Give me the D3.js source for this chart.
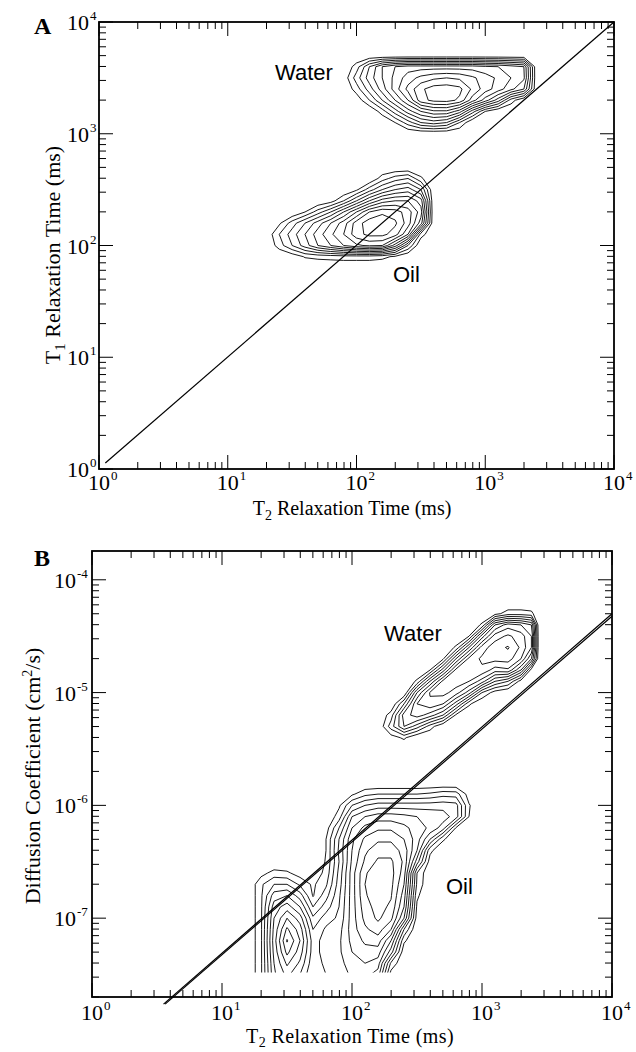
<!DOCTYPE html>
<html>
<head>
<meta charset="utf-8">
<script src="https://cdn.jsdelivr.net/npm/d3@7"></script>
<style>
  body { margin: 0; background: #fff; }
  svg { display: block; }
  .serif { font-family: "Liberation Serif", "Times New Roman", serif; fill: #000; }
  .sans { font-family: "Liberation Sans", Arial, sans-serif; fill: #000; }
</style>
</head>
<body>
<svg id="chart" width="636" height="1052"></svg>
<script>
// ------------------------------------------------------------------
// Panel A : T1 - T2 correlation map
// ------------------------------------------------------------------
const t2DomainA = [1, 1e4];
const t1DomainA = [1, 1e4];
const t2DecadesA = [1, 10, 100, 1000, 10000];
const t2ExpLabelsA = ["0", "1", "2", "3", "4"];
const t1DecadesA = [1, 10, 100, 1000, 10000];
const t1ExpLabelsA = ["0", "1", "2", "3", "4"];
const levelsA = [1, 2, 3, 4, 5, 6, 7, 8, 9, 10, 11];

// T1 = T2 reference line
const diagonalA = [[1.12, 1.13], [10000, 10000]];

// water peak : grid nodes in log10(T2) / log10(T1), rows listed from high T1 to low T1
const waterA_logT2 = [1.8, 1.9, 2.0, 2.1, 2.2, 2.3, 2.4, 2.5, 2.6, 2.7, 2.8, 2.9, 3.0, 3.1, 3.2, 3.3, 3.4, 3.5];
const waterA_logT1 = [3.8, 3.7, 3.6, 3.5, 3.4, 3.3, 3.2, 3.1, 3.0, 2.9];
const waterA_amp = [
  [0, 0, 0, 0, 0, 0, 0, 0, 0, 0, 0, 0, 0, 0, 0, 0, 0, 0],
  [0, 0, 0, 0, 0, 0, 0, 0, 0, 0, 0, 0, 0, 0, 0, 0, 0, 0],
  [0, 0, 1.5, 4, 6, 7, 7.5, 7.5, 7.5, 7.5, 7.5, 7.5, 7.2, 7, 6.5, 6, 0, 0],
  [0, 0.3, 2.5, 4.5, 6, 7.3, 8.5, 9.3, 9.8, 10, 9.8, 9.2, 8.5, 7.8, 7, 6.2, 0, 0],
  [0, 0, 1.5, 3.5, 5.5, 7.5, 9.3, 10.8, 11.5, 11.6, 11.3, 9.8, 8.5, 7.5, 6.3, 5, 0, 0],
  [0, 0, 0.3, 2, 4, 6, 8, 10.6, 11.3, 11.4, 10.8, 8.5, 6.5, 4.5, 1.5, 0, 0, 0],
  [0, 0, 0, 0, 1.5, 3.5, 5.5, 7, 7.8, 7.8, 6.5, 3.5, 1, 0, 0, 0, 0, 0],
  [0, 0, 0, 0, 0, 1, 2.5, 4, 4.5, 4, 2, 0, 0, 0, 0, 0, 0, 0],
  [0, 0, 0, 0, 0, 0, 0, 0, 0, 0, 0, 0, 0, 0, 0, 0, 0, 0],
  [0, 0, 0, 0, 0, 0, 0, 0, 0, 0, 0, 0, 0, 0, 0, 0, 0, 0]
];

// oil peak
const oilA_logT2 = [1.2, 1.3, 1.4, 1.5, 1.6, 1.7, 1.8, 1.9, 2.0, 2.1, 2.2, 2.3, 2.4, 2.5, 2.6, 2.7];
const oilA_logT1 = [2.8, 2.7, 2.6, 2.5, 2.4, 2.3, 2.2, 2.1, 2.0, 1.9, 1.8, 1.7];
const oilA_amp = [
  [0, 0, 0, 0, 0, 0, 0, 0, 0, 0, 0, 0, 0, 0, 0, 0],
  [0, 0, 0, 0, 0, 0, 0, 0, 0, 0, 0, 0, 0, 0, 0, 0],
  [0, 0, 0, 0, 0, 0, 0, 0, 0, 0, 1.5, 2.5, 3, 1.2, 0, 0],
  [0, 0, 0, 0, 0, 0, 0, 0, 0.8, 2.5, 4, 5, 5.5, 4, 0, 0],
  [0, 0, 0, 0, 0, 0, 0.5, 2, 4, 6, 7.5, 8, 8, 6.5, 0, 0],
  [0, 0, 0, 0, 1, 2.5, 4, 6, 8, 10, 10.8, 10.5, 9.5, 7.5, 0, 0],
  [0, 0, 0.8, 2.5, 4, 5.5, 7, 8.5, 10.5, 11.6, 11.7, 11.2, 9.5, 6.5, 0, 0],
  [0, 0.2, 2, 3.5, 5, 6.5, 7.8, 9, 10.6, 11.3, 11.3, 10.5, 8, 1.5, 0, 0],
  [0, 0, 1.5, 3, 4.5, 6, 7, 8, 8.8, 9.2, 9, 6.5, 3, 0, 0, 0],
  [0, 0, 0, 0.3, 1.1, 1.3, 1.4, 1.5, 1.5, 1.5, 1.3, 0.8, 0, 0, 0, 0],
  [0, 0, 0, 0, 0, 0, 0, 0, 0, 0, 0, 0, 0, 0, 0, 0],
  [0, 0, 0, 0, 0, 0, 0, 0, 0, 0, 0, 0, 0, 0, 0, 0]
];

// ------------------------------------------------------------------
// Panel B : D - T2 correlation map
// ------------------------------------------------------------------
const t2DomainB = [1, 1e4];
const dDomainB = [2e-8, 1.8e-4];
const t2DecadesB = [1, 10, 100, 1000, 10000];
const t2ExpLabelsB = ["0", "1", "2", "3", "4"];
const dDecadesB = [1e-7, 1e-6, 1e-5, 1e-4];
const dExpLabelsB = ["-7", "-6", "-5", "-4"];
const levelsB = [1, 2, 3, 4, 5, 6, 7, 8, 9, 10];

// D proportional to T2 reference lines
const lineB1 = [[3.55, 1.73e-8], [10000, 5.0e-5]];
const lineB2 = [[3.65, 1.73e-8], [10000, 4.75e-5]];

// lowest diffusion value of the inversion grid (contours stop there)
const oilB_floorD = 3.3e-8;

// water peak : log10(T2) / log10(D)
const waterB_logT2 = [2.1, 2.2, 2.3, 2.4, 2.5, 2.6, 2.7, 2.8, 2.9, 3.0, 3.1, 3.2, 3.3, 3.38, 3.44];
const waterB_logD = [-4.1, -4.2, -4.3, -4.4, -4.5, -4.6, -4.7, -4.8, -4.9, -5.0, -5.1, -5.2, -5.3, -5.4, -5.5, -5.6];
const waterB_amp = [
  [0, 0, 0, 0, 0, 0, 0, 0, 0, 0, 0, 0, 0, 0, 0],
  [0, 0, 0, 0, 0, 0, 0, 0, 0, 0, 0, 0, 0, 0, 0],
  [0, 0, 0, 0, 0, 0, 0, 0, 0, 0, 0.6, 1.5, 1.5, 1.3, 0],
  [0, 0, 0, 0, 0, 0, 0, 0, 0, 1.2, 6, 7.5, 7, 6, 0],
  [0, 0, 0, 0, 0, 0, 0, 0, 1, 5.5, 8.5, 9.2, 8.5, 7, 0],
  [0, 0, 0, 0, 0, 0, 0, 1.2, 5, 8.5, 9.6, 10.1, 8.8, 7, 0],
  [0, 0, 0, 0, 0, 0, 0.8, 5, 8.3, 9.2, 9.4, 9.5, 8, 5, 0],
  [0, 0, 0, 0, 0, 1, 4.5, 8.3, 8.8, 8.8, 7.5, 7.8, 5, 0.5, 0],
  [0, 0, 0, 0, 1.2, 5, 8.3, 8.6, 8, 6.5, 4, 3, 0.5, 0, 0],
  [0, 0, 0, 0, 5, 8.1, 8.4, 7.5, 5.5, 2, 0.5, 0, 0, 0, 0],
  [0, 0, 0, 3, 7, 7.8, 7, 4.5, 1.2, 0, 0, 0, 0, 0, 0],
  [0, 0, 1.5, 5.5, 6.5, 5.5, 4, 0.8, 0, 0, 0, 0, 0, 0, 0],
  [0, 0, 2.5, 5, 3.5, 1.5, 0, 0, 0, 0, 0, 0, 0, 0, 0],
  [0, 0, 0.5, 1.2, 0, 0, 0, 0, 0, 0, 0, 0, 0, 0, 0],
  [0, 0, 0, 0, 0, 0, 0, 0, 0, 0, 0, 0, 0, 0, 0],
  [0, 0, 0, 0, 0, 0, 0, 0, 0, 0, 0, 0, 0, 0, 0]
];

// oil : two populations (slow and fast diffusing components)
const oilB_logT2 = [1.1, 1.2, 1.3, 1.4, 1.5, 1.6, 1.7, 1.8, 1.9, 2.0, 2.1, 2.2, 2.3, 2.4, 2.5, 2.6, 2.7, 2.8, 2.9, 3.0];
const oilB_logD = [-5.7, -5.8, -5.9, -6.0, -6.1, -6.2, -6.3, -6.4, -6.5, -6.6, -6.7, -6.8, -6.9, -7.0, -7.1, -7.2, -7.3, -7.4, -7.5, -7.6, -7.7];
const oilB_amp = [
  [0, 0, 0, 0, 0, 0, 0, 0, 0, 0, 0, 0, 0, 0, 0, 0, 0, 0, 0, 0],
  [0, 0, 0, 0, 0, 0, 0, 0, 0, 0, 0, 0, 0, 0, 0, 0, 0, 0, 0, 0],
  [0, 0, 0, 0, 0, 0, 0, 0, 0, 0.8, 1.7, 2, 2, 2, 2, 2.2, 2.6, 2.5, 0.5, 0],
  [0, 0, 0, 0, 0, 0, 0, 0, 0.8, 3, 4, 4.5, 4.5, 4.5, 4.5, 4.5, 4.6, 4.4, 1.1, 0],
  [0, 0, 0, 0, 0, 0, 0, 0, 1.5, 5, 6, 6.5, 6.5, 6.3, 6, 5.8, 5.5, 4.5, 1, 0],
  [0, 0, 0, 0, 0, 0, 0, 0.5, 3, 6, 7.3, 7.8, 7.8, 7.3, 6.5, 5.8, 4.5, 0.9, 0, 0],
  [0, 0, 0, 0, 0, 0, 0, 1, 4, 6.8, 8.2, 8.8, 8.8, 8, 6.5, 4, 1.2, 0, 0, 0],
  [0, 0, 0, 0, 0, 0, 0, 1, 4.2, 7, 8.8, 9.6, 9.6, 8.6, 6, 1.3, 0, 0, 0, 0],
  [0, 0, 0, 0, 0, 0, 0, 1.1, 4, 7.2, 9.2, 10.2, 10.2, 8.8, 4.5, 0.5, 0, 0, 0, 0],
  [0, 0, 0.6, 1.4, 1.2, 0.5, 0.3, 1.3, 4.3, 7.5, 9.9, 10.5, 10.4, 8.5, 2, 0, 0, 0, 0, 0],
  [0, 0, 1.8, 3, 3, 1.8, 0.8, 1.8, 4.5, 7.5, 10, 10.6, 10.3, 8, 1.8, 0, 0, 0, 0, 0],
  [0, 0, 1.8, 4.5, 5, 3.5, 0.9, 2.6, 4.8, 7.5, 9.9, 10.5, 10.1, 7.5, 1.2, 0, 0, 0, 0, 0],
  [0, 0, 1.8, 5.5, 6.5, 5, 2, 3.5, 5, 7.5, 9.6, 10.4, 9.8, 7, 0.8, 0, 0, 0, 0, 0],
  [0, 0, 1.8, 6, 8, 6.5, 3.2, 4.5, 5.2, 7.5, 9.3, 10.2, 9.3, 6, 0.5, 0, 0, 0, 0, 0],
  [0, 0, 1.8, 6.3, 9.2, 7.5, 4, 5.2, 5.6, 7.5, 8.8, 9.5, 8, 3, 0, 0, 0, 0, 0, 0],
  [0, 0, 1.8, 6.5, 10.1, 8, 4.5, 5.5, 5.8, 7.3, 8.2, 8.5, 6, 1.2, 0, 0, 0, 0, 0, 0],
  [0, 0, 1.8, 6.3, 9.3, 7.5, 4.5, 5.5, 5.8, 7, 7.6, 7.5, 4.5, 0.3, 0, 0, 0, 0, 0, 0],
  [0, 0, 1.8, 6, 8.2, 6.8, 4.3, 5.3, 5.6, 6.6, 7, 6.5, 1.8, 0, 0, 0, 0, 0, 0, 0],
  [0, 0, 1.8, 5.8, 7.3, 6, 4, 5, 5.4, 6.2, 6.4, 5.5, 0.5, 0, 0, 0, 0, 0, 0, 0],
  [0, 0, 1.8, 5.5, 6.6, 5.5, 3.8, 4.8, 5.2, 5.8, 6, 5, 0.3, 0, 0, 0, 0, 0, 0, 0],
  [0, 0, 1.8, 5.3, 6, 5, 3.5, 4.5, 5, 5.5, 5.6, 4.5, 0, 0, 0, 0, 0, 0, 0, 0]
];

// ------------------------------------------------------------------
const svg = d3.select("#chart");

const xA = d3.scaleLog().domain(t2DomainA).range([99, 614]);
const yA = d3.scaleLog().domain(t1DomainA).range([469, 22]);
const xB = d3.scaleLog().domain(t2DomainB).range([92, 612]);
const yB = d3.scaleLog().domain(dDomainB).range([997, 551]);

// frame with inward ticks on all four sides
function drawFrame(g, xs, ys) {
  const [x0, x1] = xs.range();
  const [y0, y1] = ys.range(); // y0 bottom, y1 top
  const isMajor = v => Math.abs(Math.log10(v) - Math.round(Math.log10(v))) < 1e-9;
  const tk = g.append("g").attr("stroke", "#000").attr("stroke-width", 1);
  xs.ticks().forEach(v => {
    const x = xs(v), L = isMajor(v) ? 14 : 7;
    tk.append("line").attr("x1", x).attr("x2", x).attr("y1", y0).attr("y2", y0 - L);
    tk.append("line").attr("x1", x).attr("x2", x).attr("y1", y1).attr("y2", y1 + L);
  });
  ys.ticks().forEach(v => {
    const y = ys(v), L = isMajor(v) ? 14 : 7;
    tk.append("line").attr("x1", x0).attr("x2", x0 + L).attr("y1", y).attr("y2", y);
    tk.append("line").attr("x1", x1).attr("x2", x1 - L).attr("y1", y).attr("y2", y);
  });
  g.append("rect")
    .attr("x", x0).attr("y", y1)
    .attr("width", x1 - x0).attr("height", y0 - y1)
    .attr("fill", "none").attr("stroke", "#000").attr("stroke-width", 1.8);
}

// "10" with a superscript exponent
function xTickLabels(g, xs, values, exps, baseY) {
  values.forEach((v, i) => {
    const x = xs(v);
    g.append("text").attr("class", "serif").attr("x", x).attr("y", baseY)
      .attr("text-anchor", "middle").attr("font-size", 22).text("10");
    g.append("text").attr("class", "serif").attr("x", x + 12).attr("y", baseY - 10)
      .attr("font-size", 13).text(exps[i]);
  });
}
function yTickLabels(g, ys, values, exps, rightX, expW) {
  values.forEach((v, i) => {
    const y = ys(v);
    g.append("text").attr("class", "serif").attr("x", rightX - expW).attr("y", y + 8)
      .attr("text-anchor", "end").attr("font-size", 22).text("10");
    g.append("text").attr("class", "serif").attr("x", rightX - expW + 1).attr("y", y - 2)
      .attr("font-size", 13).text(exps[i]);
  });
}

// contour rings of a gridded amplitude map, positioned through the log scales
function drawContours(g, logXs, logYs, amp, levels, xs, ys) {
  const n = logXs.length, m = logYs.length;
  const fx = d3.scaleLinear().domain(d3.range(n)).range(logXs);
  const fy = d3.scaleLinear().domain(d3.range(m)).range(logYs);
  const gen = d3.contours().size([n, m]).thresholds(levels);
  const line = d3.line();
  gen(amp.flat()).forEach(mp => {
    const d = mp.coordinates.map(poly =>
      poly.map(ring =>
        line(ring.map(([cx, cy]) => [xs(Math.pow(10, fx(cx - 0.5))), ys(Math.pow(10, fy(cy - 0.5)))])) + "Z"
      ).join("")
    ).join("");
    g.append("path").attr("d", d)
      .attr("fill", "none").attr("stroke", "#000")
      .attr("stroke-width", 0.9).attr("stroke-linejoin", "round");
  });
}

function drawLine(g, pts, xs, ys) {
  g.append("path")
    .attr("d", d3.line().x(p => xs(p[0])).y(p => ys(p[1]))(pts))
    .attr("fill", "none").attr("stroke", "#000").attr("stroke-width", 1.2);
}

// ---------------- Panel A ----------------
const gA = svg.append("g");
drawContours(gA, waterA_logT2, waterA_logT1, waterA_amp, levelsA, xA, yA);
drawContours(gA, oilA_logT2, oilA_logT1, oilA_amp, levelsA, xA, yA);
drawLine(gA, diagonalA, xA, yA);
drawFrame(gA, xA, yA);
xTickLabels(gA, xA, t2DecadesA, t2ExpLabelsA, 490);
yTickLabels(gA, yA, t1DecadesA, t1ExpLabelsA, 96, 7);

gA.append("text").attr("class", "serif").attr("x", 34).attr("y", 34)
  .attr("font-size", 24).attr("font-weight", "bold").text("A");

const tA = gA.append("text").attr("class", "serif").attr("font-size", 20)
  .attr("x", 352).attr("y", 515).attr("text-anchor", "middle");
tA.append("tspan").text("T");
tA.append("tspan").attr("font-size", 14).attr("dy", 5).text("2");
tA.append("tspan").attr("dy", -5).text(" Relaxation Time (ms)");

const tyA = gA.append("text").attr("class", "serif").attr("font-size", 22)
  .attr("transform", "translate(60,255) rotate(-90)").attr("text-anchor", "middle");
tyA.append("tspan").text("T");
tyA.append("tspan").attr("font-size", 15).attr("dy", 5).text("1");
tyA.append("tspan").attr("dy", -5).text(" Relaxation Time (ms)");

gA.append("text").attr("class", "sans").attr("x", 275).attr("y", 80).attr("font-size", 22).text("Water");
gA.append("text").attr("class", "sans").attr("x", 393).attr("y", 282).attr("font-size", 22).text("Oil");

// ---------------- Panel B ----------------
const gB = svg.append("g");
const clip = svg.append("defs").append("clipPath").attr("id", "oilFloor");
clip.append("rect").attr("x", 0).attr("y", 0).attr("width", 636).attr("height", yB(oilB_floorD));

drawContours(gB, waterB_logT2, waterB_logD, waterB_amp, levelsB, xB, yB);
drawContours(gB.append("g").attr("clip-path", "url(#oilFloor)"), oilB_logT2, oilB_logD, oilB_amp, levelsB, xB, yB);
drawLine(gB, lineB1, xB, yB);
drawLine(gB, lineB2, xB, yB);
drawFrame(gB, xB, yB);
xTickLabels(gB, xB, t2DecadesB, t2ExpLabelsB, 1020);
yTickLabels(gB, yB, dDecadesB, dExpLabelsB, 88, 12);

gB.append("text").attr("class", "serif").attr("x", 34).attr("y", 566)
  .attr("font-size", 24).attr("font-weight", "bold").text("B");

const tB = gB.append("text").attr("class", "serif").attr("font-size", 20)
  .attr("x", 350).attr("y", 1043).attr("text-anchor", "middle").attr("letter-spacing", 0.4);
tB.append("tspan").text("T");
tB.append("tspan").attr("font-size", 14).attr("dy", 4).text("2");
tB.append("tspan").attr("dy", -4).text(" Relaxation Time (ms)");

const tyB = gB.append("text").attr("class", "serif").attr("font-size", 22)
  .attr("transform", "translate(40,776) rotate(-90)").attr("text-anchor", "middle");
tyB.append("tspan").text("Diffusion Coefficient (cm");
tyB.append("tspan").attr("font-size", 14).attr("dy", -8).text("2");
tyB.append("tspan").attr("dy", 8).text("/s)");

gB.append("text").attr("class", "sans").attr("x", 384).attr("y", 641).attr("font-size", 22).text("Water");
gB.append("text").attr("class", "sans").attr("x", 446).attr("y", 894).attr("font-size", 22).text("Oil");
</script>
</body>
</html>
